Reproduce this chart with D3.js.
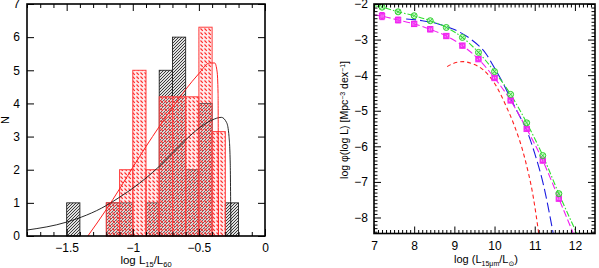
<!DOCTYPE html>
<html>
<head>
<meta charset="utf-8">
<script src="https://cdn.jsdelivr.net/npm/d3@7"></script>
<style>
  body { margin: 0; background: #fff; }
  text { font-family: "Liberation Sans", Arial, sans-serif; }
</style>
</head>
<body>
<script>
// ---- left panel: histograms of log L15/L60 ----
const binLeft = [-1.5, -1.4, -1.3, -1.2, -1.1, -1.0, -0.9, -0.8, -0.7, -0.6, -0.5, -0.4, -0.3];
const blackN  = [1, 0, 0, 1, 1, 0, 1, 5, 6, 2, 4, 0, 1];
const redN    = [0, 0, 0, 1, 2, 5, 2, 4.2, 4.2, 4.2, 6.3, 3.15, 0];

// smooth model curves [log L15/L60, N]
const blackCurve = [[-1.8, 0.18], [-1.5, 0.42], [-1.2, 0.92], [-1.1, 1.17], [-1.0, 1.44],
  [-0.9, 1.75], [-0.8, 2.1], [-0.7, 2.5], [-0.6, 2.9], [-0.5, 3.25], [-0.4, 3.5], [-0.33, 3.58],
  [-0.29, 3.42], [-0.272, 3.0], [-0.263, 2.2], [-0.258, 0]];
const redCurve = [[-1.34, 0], [-1.2, 0.8], [-1.1, 1.42], [-1.0, 2.07], [-0.9, 2.7],
  [-0.8, 3.3], [-0.7, 3.88], [-0.6, 4.42], [-0.5, 4.9], [-0.42, 5.22], [-0.38, 5.22],
  [-0.362, 4.95], [-0.355, 4.3], [-0.352, 0]];

const xLMajor = [-1.5, -1, -0.5, 0];
const xLMinor = [-1.8, -1.7, -1.6, -1.4, -1.3, -1.2, -1.1, -0.9, -0.8, -0.7, -0.6, -0.4, -0.3, -0.2, -0.1];
const yLMajor = [0, 1, 2, 3, 4, 5, 6, 7];

// ---- right panel: luminosity function ----
const lumPts    = [7.2, 7.6, 8.0, 8.4, 8.8, 9.2, 9.6, 10.0, 10.4, 10.8, 11.2, 11.6];
const greenPhi  = [-2.09, -2.22, -2.33, -2.47, -2.66, -2.94, -3.36, -3.90, -4.54, -5.34, -6.26, -7.33];
const magPhi    = [-2.34, -2.45, -2.56, -2.71, -2.90, -3.17, -3.55, -4.08, -4.71, -5.51, -6.40, -7.47];
const magErr    = [0.10, 0.08, 0.07, 0.07, 0.06, 0.05, 0.05, 0.05, 0.05, 0.05, 0.05, 0.06];

const greenFit = [[7.0, -2.05], [7.2, -2.09], [7.6, -2.22], [8.0, -2.33], [8.4, -2.47], [8.8, -2.66],
  [9.2, -2.94], [9.6, -3.36], [10.0, -3.90], [10.4, -4.54], [10.8, -5.34], [11.2, -6.26],
  [11.6, -7.33], [12.05, -8.45]];
const magFit = [[7.0, -2.30], [7.2, -2.34], [7.6, -2.45], [8.0, -2.56], [8.4, -2.71], [8.8, -2.90],
  [9.2, -3.17], [9.6, -3.55], [10.0, -4.08], [10.4, -4.71], [10.8, -5.51], [11.2, -6.40],
  [11.6, -7.47], [11.96, -8.45]];
const blueFit = [[7.8, -2.42], [8.2, -2.47], [8.6, -2.56], [9.0, -2.72], [9.4, -2.98], [9.8, -3.42],
  [10.0, -3.80], [10.2, -4.2], [10.4, -4.66], [10.6, -5.1], [10.8, -5.55], [11.0, -6.2],
  [11.2, -7.0], [11.46, -8.45]];
const redFit = [[8.82, -3.76], [9.0, -3.66], [9.22, -3.62], [9.45, -3.68], [9.72, -3.85],
  [10.05, -4.32], [10.3, -4.9], [10.47, -5.35], [10.76, -6.37], [10.96, -7.4], [11.1, -8.45]];

const xRMajor = [7, 8, 9, 10, 11, 12];
const yRMajor = [-2, -3, -4, -5, -6, -7, -8];

const W = 599, H = 268;
const fmt = d3.format("~g");

const svg = d3.select("body").append("svg")
    .attr("width", W)
    .attr("height", H);

const defs = svg.append("defs");

// black "////" hatching
const pk = defs.append("pattern")
    .attr("id", "hatchK")
    .attr("patternUnits", "userSpaceOnUse")
    .attr("width", 3).attr("height", 3);
pk.append("rect").attr("width", 3).attr("height", 3).attr("fill", "#e0e0e0");
pk.append("path")
    .attr("d", "M-1,1 L1,-1 M0,3 L3,0 M2,4 L4,2")
    .attr("stroke", "#111").attr("stroke-width", 0.8);

// red "\\\\" short dash hatching
const pr = defs.append("pattern")
    .attr("id", "hatchR")
    .attr("patternUnits", "userSpaceOnUse")
    .attr("width", 4).attr("height", 4);
pr.append("rect").attr("width", 4).attr("height", 4).attr("fill", "rgba(255,185,185,0.3)");
pr.append("path")
    .attr("d", "M0.5,0.5 L2.8,2.8")
    .attr("stroke", "#ff2a2a").attr("stroke-width", 1.1);

function ticks(g, scale, axisFn, pos, vals, size, labels, pad = 6) {
    const a = axisFn(scale).tickValues(vals).tickSize(-size).tickPadding(pad)
    if (!labels) a.tickFormat("")
    else a.tickFormat(fmt)
    const t = g.append("g")
        .attr("transform", pos)
        .call(a)
    t.select(".domain").remove()
    t.selectAll("line").attr("stroke", "#000").attr("stroke-width", 1)
    t.selectAll("text").attr("font-size", 12).attr("fill", "#000")
        .attr("font-family", "Liberation Sans, Arial, sans-serif")
    return t
}

// ================= LEFT =================
const xL = d3.scaleLinear().domain([-1.8, 0]).range([27, 265]);
const yL = d3.scaleLinear().domain([0, 7]).range([236, 4]);
const left = svg.append("g");

const bins = binLeft.map((b, i) => ({ x0: b, x1: b + 0.1, k: blackN[i], r: redN[i] }));

// black histogram
left.append("g")
    .selectAll("rect")
    .data(bins.filter(d => d.k > 0))
    .enter()
    .append("rect")
    .attr("x", d => xL(d.x0))
    .attr("y", d => yL(d.k))
    .attr("width", d => xL(d.x1) - xL(d.x0))
    .attr("height", d => yL(0) - yL(d.k))
    .attr("fill", "url(#hatchK)")
    .attr("stroke", "#222")
    .attr("stroke-width", 0.9);

// red histogram
left.append("g")
    .selectAll("rect")
    .data(bins.filter(d => d.r > 0))
    .enter()
    .append("rect")
    .attr("x", d => xL(d.x0))
    .attr("y", d => yL(d.r))
    .attr("width", d => xL(d.x1) - xL(d.x0))
    .attr("height", d => yL(0) - yL(d.r))
    .attr("fill", "url(#hatchR)")
    .attr("stroke", "#ff4040")
    .attr("stroke-width", 1);

const lineL = d3.line().x(d => xL(d[0])).y(d => yL(d[1])).curve(d3.curveMonotoneX);
left.append("path").datum(blackCurve).attr("d", lineL)
    .attr("fill", "none").attr("stroke", "#111").attr("stroke-width", 0.9);
left.append("path").datum(redCurve).attr("d", lineL)
    .attr("fill", "none").attr("stroke", "#ff2020").attr("stroke-width", 1);

// axes, ticks point inwards
ticks(left, xL, d3.axisBottom, "translate(0,236)", xLMajor, 7, true, 7);
ticks(left, xL, d3.axisBottom, "translate(0,236)", xLMinor, 4, false);
ticks(left, xL, d3.axisTop, "translate(0,4)", xLMajor, 7, false);
ticks(left, xL, d3.axisTop, "translate(0,4)", xLMinor, 4, false);
ticks(left, yL, d3.axisLeft, "translate(27,0)", yLMajor, 7, true, 7);
ticks(left, yL, d3.axisRight, "translate(265,0)", yLMajor, 7, false);

left.append("rect")
    .attr("x", 27).attr("y", 4).attr("width", 238).attr("height", 232)
    .attr("fill", "none").attr("stroke", "#000").attr("stroke-width", 1.6);

// labels
const lx = left.append("text")
    .attr("x", 146).attr("y", 264)
    .attr("text-anchor", "middle").attr("font-size", 11.5);
lx.append("tspan").text("log  L");
lx.append("tspan").attr("font-size", 7.5).attr("dy", 2.5).text("15");
lx.append("tspan").attr("dy", -2.5).text("/L");
lx.append("tspan").attr("font-size", 7.5).attr("dy", 2.5).text("60");

left.append("text")
    .attr("transform", "translate(9,120) rotate(-90)")
    .attr("text-anchor", "middle").attr("font-size", 11)
    .text("N");

// ================= RIGHT =================
const xR = d3.scaleLinear().domain([7, 12.5]).range([374, 595]);
const yR = d3.scaleLinear().domain([-8.45, -2]).range([233.5, 4]);
const right = svg.append("g");

right.append("defs").append("clipPath").attr("id", "clipR")
    .append("rect").attr("x", 374).attr("y", 4).attr("width", 221).attr("height", 229.5);

const plot = right.append("g").attr("clip-path", "url(#clipR)");
const lineR = d3.line().x(d => xR(d[0])).y(d => yR(d[1])).curve(d3.curveMonotoneX);

plot.append("path").datum(redFit).attr("d", lineR)
    .attr("fill", "none").attr("stroke", "#ff2020").attr("stroke-width", 1.1)
    .attr("stroke-dasharray", "4,3");
plot.append("path").datum(blueFit).attr("d", lineR)
    .attr("fill", "none").attr("stroke", "#1a1ae0").attr("stroke-width", 1.1)
    .attr("stroke-dasharray", "10,4");
plot.append("path").datum(magFit).attr("d", lineR)
    .attr("fill", "none").attr("stroke", "#f020f0").attr("stroke-width", 1.1)
    .attr("stroke-dasharray", "7,3");
plot.append("path").datum(greenFit).attr("d", lineR)
    .attr("fill", "none").attr("stroke", "#30e030").attr("stroke-width", 1.1)
    .attr("stroke-dasharray", "6,2,1.5,2");

// magenta error bars and markers
const mag = lumPts.map((l, i) => ({ l: l, p: magPhi[i], e: magErr[i] }));
plot.append("g").selectAll("path")
    .data(mag)
    .enter()
    .append("path")
    .attr("d", d => {
        const x = xR(d.l), y0 = yR(d.p - d.e), y1 = yR(d.p + d.e)
        return `M${x},${y0}V${y1}M${x - 2.5},${y0}H${x + 2.5}M${x - 2.5},${y1}H${x + 2.5}`
    })
    .attr("stroke", "#f020f0").attr("stroke-width", 1).attr("fill", "none");
plot.append("g").selectAll("rect")
    .data(mag)
    .enter()
    .append("rect")
    .attr("x", d => xR(d.l) - 2.7).attr("y", d => yR(d.p) - 2.7)
    .attr("width", 5.4).attr("height", 5.4)
    .attr("fill", "rgba(240,60,240,0.55)").attr("stroke", "#f020f0").attr("stroke-width", 0.9);
plot.append("g").selectAll("circle")
    .data(mag)
    .enter()
    .append("circle")
    .attr("cx", d => xR(d.l)).attr("cy", d => yR(d.p)).attr("r", 2.3)
    .attr("fill", "none").attr("stroke", "#f020f0").attr("stroke-width", 0.9);

// green markers (circle with cross)
const grn = lumPts.map((l, i) => ({ l: l, p: greenPhi[i] }));
const gm = plot.append("g").selectAll("g")
    .data(grn)
    .enter()
    .append("g")
    .attr("transform", d => `translate(${xR(d.l)},${yR(d.p)})`);
gm.append("circle").attr("r", 3)
    .attr("fill", "rgba(120,240,120,0.35)").attr("stroke", "#30d030").attr("stroke-width", 1);
gm.append("path").attr("d", "M-2,-2L2,2M-2,2L2,-2")
    .attr("stroke", "#30d030").attr("stroke-width", 0.8);

// axes
const xRMinor = d3.range(7.1, 12.5, 0.1).filter(v => Math.abs(v - Math.round(v)) > 0.01);
const yRMinor = d3.range(-8.4, -2, 0.1).filter(v => Math.abs(v - Math.round(v)) > 0.01);
ticks(right, xR, d3.axisBottom, "translate(0,233.5)", xRMajor, 7, true, 8);
ticks(right, xR, d3.axisBottom, "translate(0,233.5)", xRMinor, 3.5, false);
ticks(right, xR, d3.axisTop, "translate(0,4)", xRMajor, 7, false);
ticks(right, xR, d3.axisTop, "translate(0,4)", xRMinor, 3.5, false);
ticks(right, yR, d3.axisLeft, "translate(374,0)", yRMajor, 7, true);
ticks(right, yR, d3.axisLeft, "translate(374,0)", yRMinor, 3.5, false);
ticks(right, yR, d3.axisRight, "translate(595,0)", yRMajor, 7, false);
ticks(right, yR, d3.axisRight, "translate(595,0)", yRMinor, 3.5, false);

right.append("rect")
    .attr("x", 374).attr("y", 4).attr("width", 221).attr("height", 229.5)
    .attr("fill", "none").attr("stroke", "#000").attr("stroke-width", 1.6);

const rx = right.append("text")
    .attr("x", 486).attr("y", 263)
    .attr("text-anchor", "middle").attr("font-size", 11);
rx.append("tspan").text("log (L");
rx.append("tspan").attr("font-size", 7).attr("dy", 2.5).text("15\u03bcm");
rx.append("tspan").attr("dy", -2.5).text("/L");
rx.append("tspan").attr("font-size", 7).attr("dy", 2.5).attr("font-family", "DejaVu Sans").text("\u2299");
rx.append("tspan").attr("dy", -2.5).text(")");

const ry = right.append("text")
    .attr("transform", "translate(348,120) rotate(-90)")
    .attr("text-anchor", "middle").attr("font-size", 10.5);
ry.append("tspan").text("log \u03c6(log L) [Mpc");
ry.append("tspan").attr("font-size", 7).attr("dy", -3.5).text("\u22123");
ry.append("tspan").attr("dy", 3.5).text(" dex");
ry.append("tspan").attr("font-size", 7).attr("dy", -3.5).text("\u22121");
ry.append("tspan").attr("dy", 3.5).text("]");
</script>
</body>
</html>
